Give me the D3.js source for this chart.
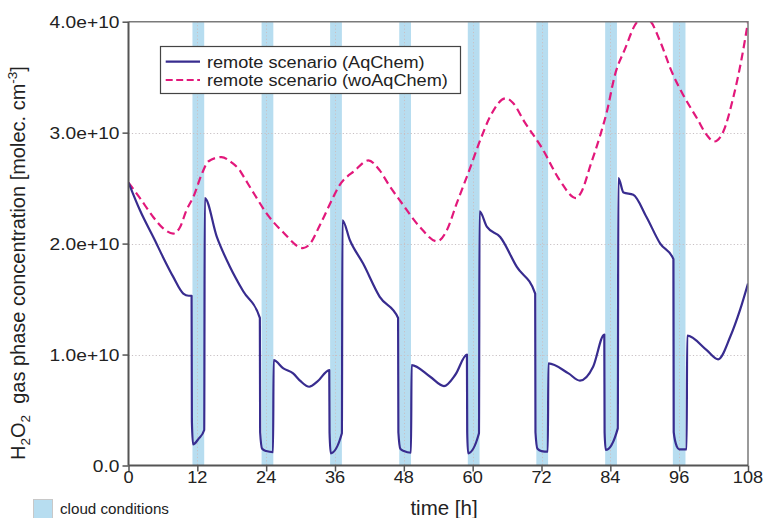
<!DOCTYPE html>
<html><head><meta charset="utf-8">
<script src="https://cdn.jsdelivr.net/npm/d3@7"></script>
<style>
body{margin:0;background:#fff;}
svg{display:block;font-family:"Liberation Sans",Arial,Helvetica,sans-serif;}
</style></head>
<body><svg id="c" width="764" height="518"></svg>
<script>
// ---- data ----
const xTicks = [0,12,24,36,48,60,72,84,96,108];
const yTicks = [0,1e10,2e10,3e10,4e10];
const yTickLabels = ["0.0","1.0e+10","2.0e+10","3.0e+10","4.0e+10"];
const cloudStart = [11.15,23.2,35.15,47.2,59.15,71.1,83.1,94.9];
const cloudEnd   = [13.2,25.25,37.2,49.25,61.2,73.15,85.15,97.1];

const woTime = [0,2,4.3,6,7.8,9,10.1,11.3,12.8,13.9,16.2,18,19.4,20,22,24.1,27,30.4,31.5,33.4,35.7,36.6,39.5,41.8,43.8,45.5,47.3,50.8,53.8,55.5,57.2,59.4,61.3,63,65.8,67,69,72.1,75.2,78,79,80.5,82.2,83.4,84.8,86.6,88.3,89.6,90.9,92.7,94.7,96.7,99.1,100.8,102.1,103.7,105.4,106.9,108];
const woVal  = [2.55,2.41,2.24,2.14,2.09,2.15,2.30,2.42,2.63,2.74,2.78,2.73,2.66,2.61,2.44,2.27,2.10,1.96,1.99,2.17,2.42,2.51,2.66,2.75,2.66,2.52,2.39,2.15,2.02,2.12,2.36,2.66,2.93,3.14,3.31,3.27,3.10,2.86,2.57,2.41,2.47,2.70,2.97,3.19,3.52,3.76,3.97,4.04,4.01,3.82,3.55,3.34,3.13,2.98,2.92,3.01,3.31,3.67,4.00];

const aqTime = [0,2,4.6,6,7.8,9.55,10.5,11.0,11.05,11.25,12.2,13.2,13.3,15.4,17.7,20.0,22.9,22.95,23.3,24,25.2,25.3,27.0,28.7,30,31.5,33,35.0,35.05,35.25,37.2,37.3,38.6,40.9,43.8,47.0,47.05,47.4,48,49.25,49.35,52.6,55.0,57,59.0,59.05,59.2,61.1,61.2,62.5,64.8,67.7,70.9,70.95,71.3,72,73.1,73.2,76.7,78.7,81.0,82.95,83.0,83.2,85.3,85.4,86.3,88.0,90.3,92.7,95.0,95.05,95.6,96,97.3,97.4,100.8,102.8,104.9,106.6,108];
const aqVal  = [2.55,2.30,2.03,1.88,1.70,1.55,1.53,1.53,0.40,0.19,0.24,0.32,2.41,2.06,1.79,1.57,1.33,0.30,0.15,0.13,0.12,0.95,0.875,0.83,0.76,0.71,0.76,0.86,0.30,0.11,0.29,2.21,2.03,1.82,1.52,1.33,0.30,0.15,0.13,0.115,0.905,0.80,0.716,0.82,1.00,0.30,0.11,0.29,2.29,2.15,2.06,1.79,1.55,0.30,0.15,0.13,0.125,0.92,0.83,0.765,0.89,1.18,0.30,0.14,0.335,2.59,2.46,2.44,2.24,2.0,1.86,0.30,0.17,0.146,0.146,1.17,1.04,0.957,1.16,1.4,1.64];

const seriesNames = ["remote scenario (AqChem)","remote scenario (woAqChem)"];
const seriesColors = ["#382c8f","#e2187b"];

// ---- layout ----
const L=128.5, R=748, T=21.7, B=465.5;
const svg = d3.select("#c");
const x = d3.scaleLinear().domain([0,108]).range([L,R]);
const y = d3.scaleLinear().domain([0,4e10]).range([B,T]);

svg.append("defs").append("clipPath").attr("id","clip")
  .append("rect").attr("x",L).attr("y",T).attr("width",R-L).attr("height",B-T);

// cloud bands
svg.append("g").selectAll("rect").data(cloudStart).join("rect")
  .attr("x",d=>x(d)).attr("y",T)
  .attr("width",(d,i)=>x(cloudEnd[i])-x(d)).attr("height",B-T)
  .attr("fill","#b7ddf0");

// grid
const grid = svg.append("g").attr("stroke","#c8c0c4").attr("stroke-width",1).attr("stroke-dasharray","1.2,2.2");
grid.selectAll(".gy").data(yTicks.slice(1,4)).join("line")
  .attr("x1",L).attr("x2",R).attr("y1",d=>Math.round(y(d))+0.5).attr("y2",d=>Math.round(y(d))+0.5);
grid.selectAll(".gx").data(xTicks.slice(1,9)).join("line")
  .attr("y1",T).attr("y2",B).attr("x1",d=>Math.round(x(d))+0.5).attr("x2",d=>Math.round(x(d))+0.5);

// lines
const gLines = svg.append("g").attr("clip-path","url(#clip)");
const aq = aqTime.map((t,i)=>[t,aqVal[i]*1e10]);
const wo = woTime.map((t,i)=>[t,woVal[i]*1e10]);
const line = d3.line().x(d=>x(d[0])).y(d=>y(d[1])).curve(d3.curveMonotoneX);
gLines.append("path").attr("d",line(wo)).attr("fill","none")
  .attr("stroke",seriesColors[1]).attr("stroke-width",2.2).attr("stroke-dasharray","8,4.5");
gLines.append("path").attr("d",line(aq)).attr("fill","none")
  .attr("stroke",seriesColors[0]).attr("stroke-width",2.2).attr("stroke-linejoin","round");

// frame (top/right)
svg.append("path").attr("d",`M${L},${T}H${R}V${B}`).attr("fill","none").attr("stroke","#7a7a7a").attr("stroke-width",1.5);

// axes
const yAxis = svg.append("g").attr("transform",`translate(${L},0)`)
  .call(d3.axisLeft(y).tickValues(yTicks).tickSize(6).tickFormat(""));
const xAxis = svg.append("g").attr("transform",`translate(0,${B})`)
  .call(d3.axisBottom(x).tickValues(xTicks).tickSize(6).tickFormat(""));
[yAxis,xAxis].forEach(a=>{
  a.select(".domain").attr("stroke","#555").attr("stroke-width",2);
  a.selectAll(".tick line").attr("stroke","#555").attr("stroke-width",1.5);
});
xAxis.select(".domain").attr("d",`M${L},0H${R}`);
yAxis.select(".domain").attr("d",`M0,${B}V${T}`);

// tick labels
svg.append("g").selectAll("text").data(yTicks).join("text")
  .attr("transform",d=>`translate(119.5,${y(d)+6}) scale(1.13,1)`)
  .attr("text-anchor","end").attr("font-size",17).attr("fill","#222")
  .text((d,i)=>yTickLabels[i]);
svg.append("g").selectAll("text").data(xTicks).join("text")
  .attr("transform",d=>`translate(${x(d)},482.7) scale(1.07,1)`)
  .attr("text-anchor","middle").attr("font-size",17).attr("fill","#222")
  .text(d=>d);

// axis titles
svg.append("text").attr("x",444).attr("y",515).attr("text-anchor","middle")
  .attr("font-size",20.5).attr("fill","#222").text("time [h]");
const yt = svg.append("text").attr("transform","translate(25,460) rotate(-90)")
  .attr("font-size",20).attr("fill","#222");
yt.append("tspan").text("H");
yt.append("tspan").attr("font-size",13.5).attr("dy",5).text("2");
yt.append("tspan").attr("dy",-5).text("O");
yt.append("tspan").attr("font-size",13.5).attr("dy",5).text("2");
yt.append("tspan").attr("dy",-5).attr("xml:space","preserve").text("  gas phase concentration [molec. cm");
yt.append("tspan").attr("font-size",13.5).attr("dy",-8).text("-3");
yt.append("tspan").attr("dy",8).text("]");

// legend
const lg = svg.append("g");
lg.append("rect").attr("x",160.5).attr("y",46.5).attr("width",300).attr("height",47)
  .attr("fill","#fff").attr("stroke","#444").attr("stroke-width",1.2);
[61.7,80].forEach((yy,i)=>{
  lg.append("line").attr("x1",165.7).attr("x2",200).attr("y1",yy).attr("y2",yy)
    .attr("stroke",seriesColors[i]).attr("stroke-width",2.2)
    .attr("stroke-dasharray",i===1?"7,3.5":null);
  lg.append("text").attr("transform",`translate(207,${yy+6.2}) scale(1.12,1)`)
    .attr("font-size",16.2).attr("fill","#222").text(seriesNames[i]);
});

// cloud legend
svg.append("rect").attr("x",33.5).attr("y",499.5).attr("width",19).attr("height",19)
  .attr("fill","#b7ddf0").attr("stroke","#c8c8c8").attr("stroke-width",1);
svg.append("text").attr("x",60).attr("y",513.5).attr("font-size",15.2).attr("fill","#222").text("cloud conditions");
</script></body></html>
